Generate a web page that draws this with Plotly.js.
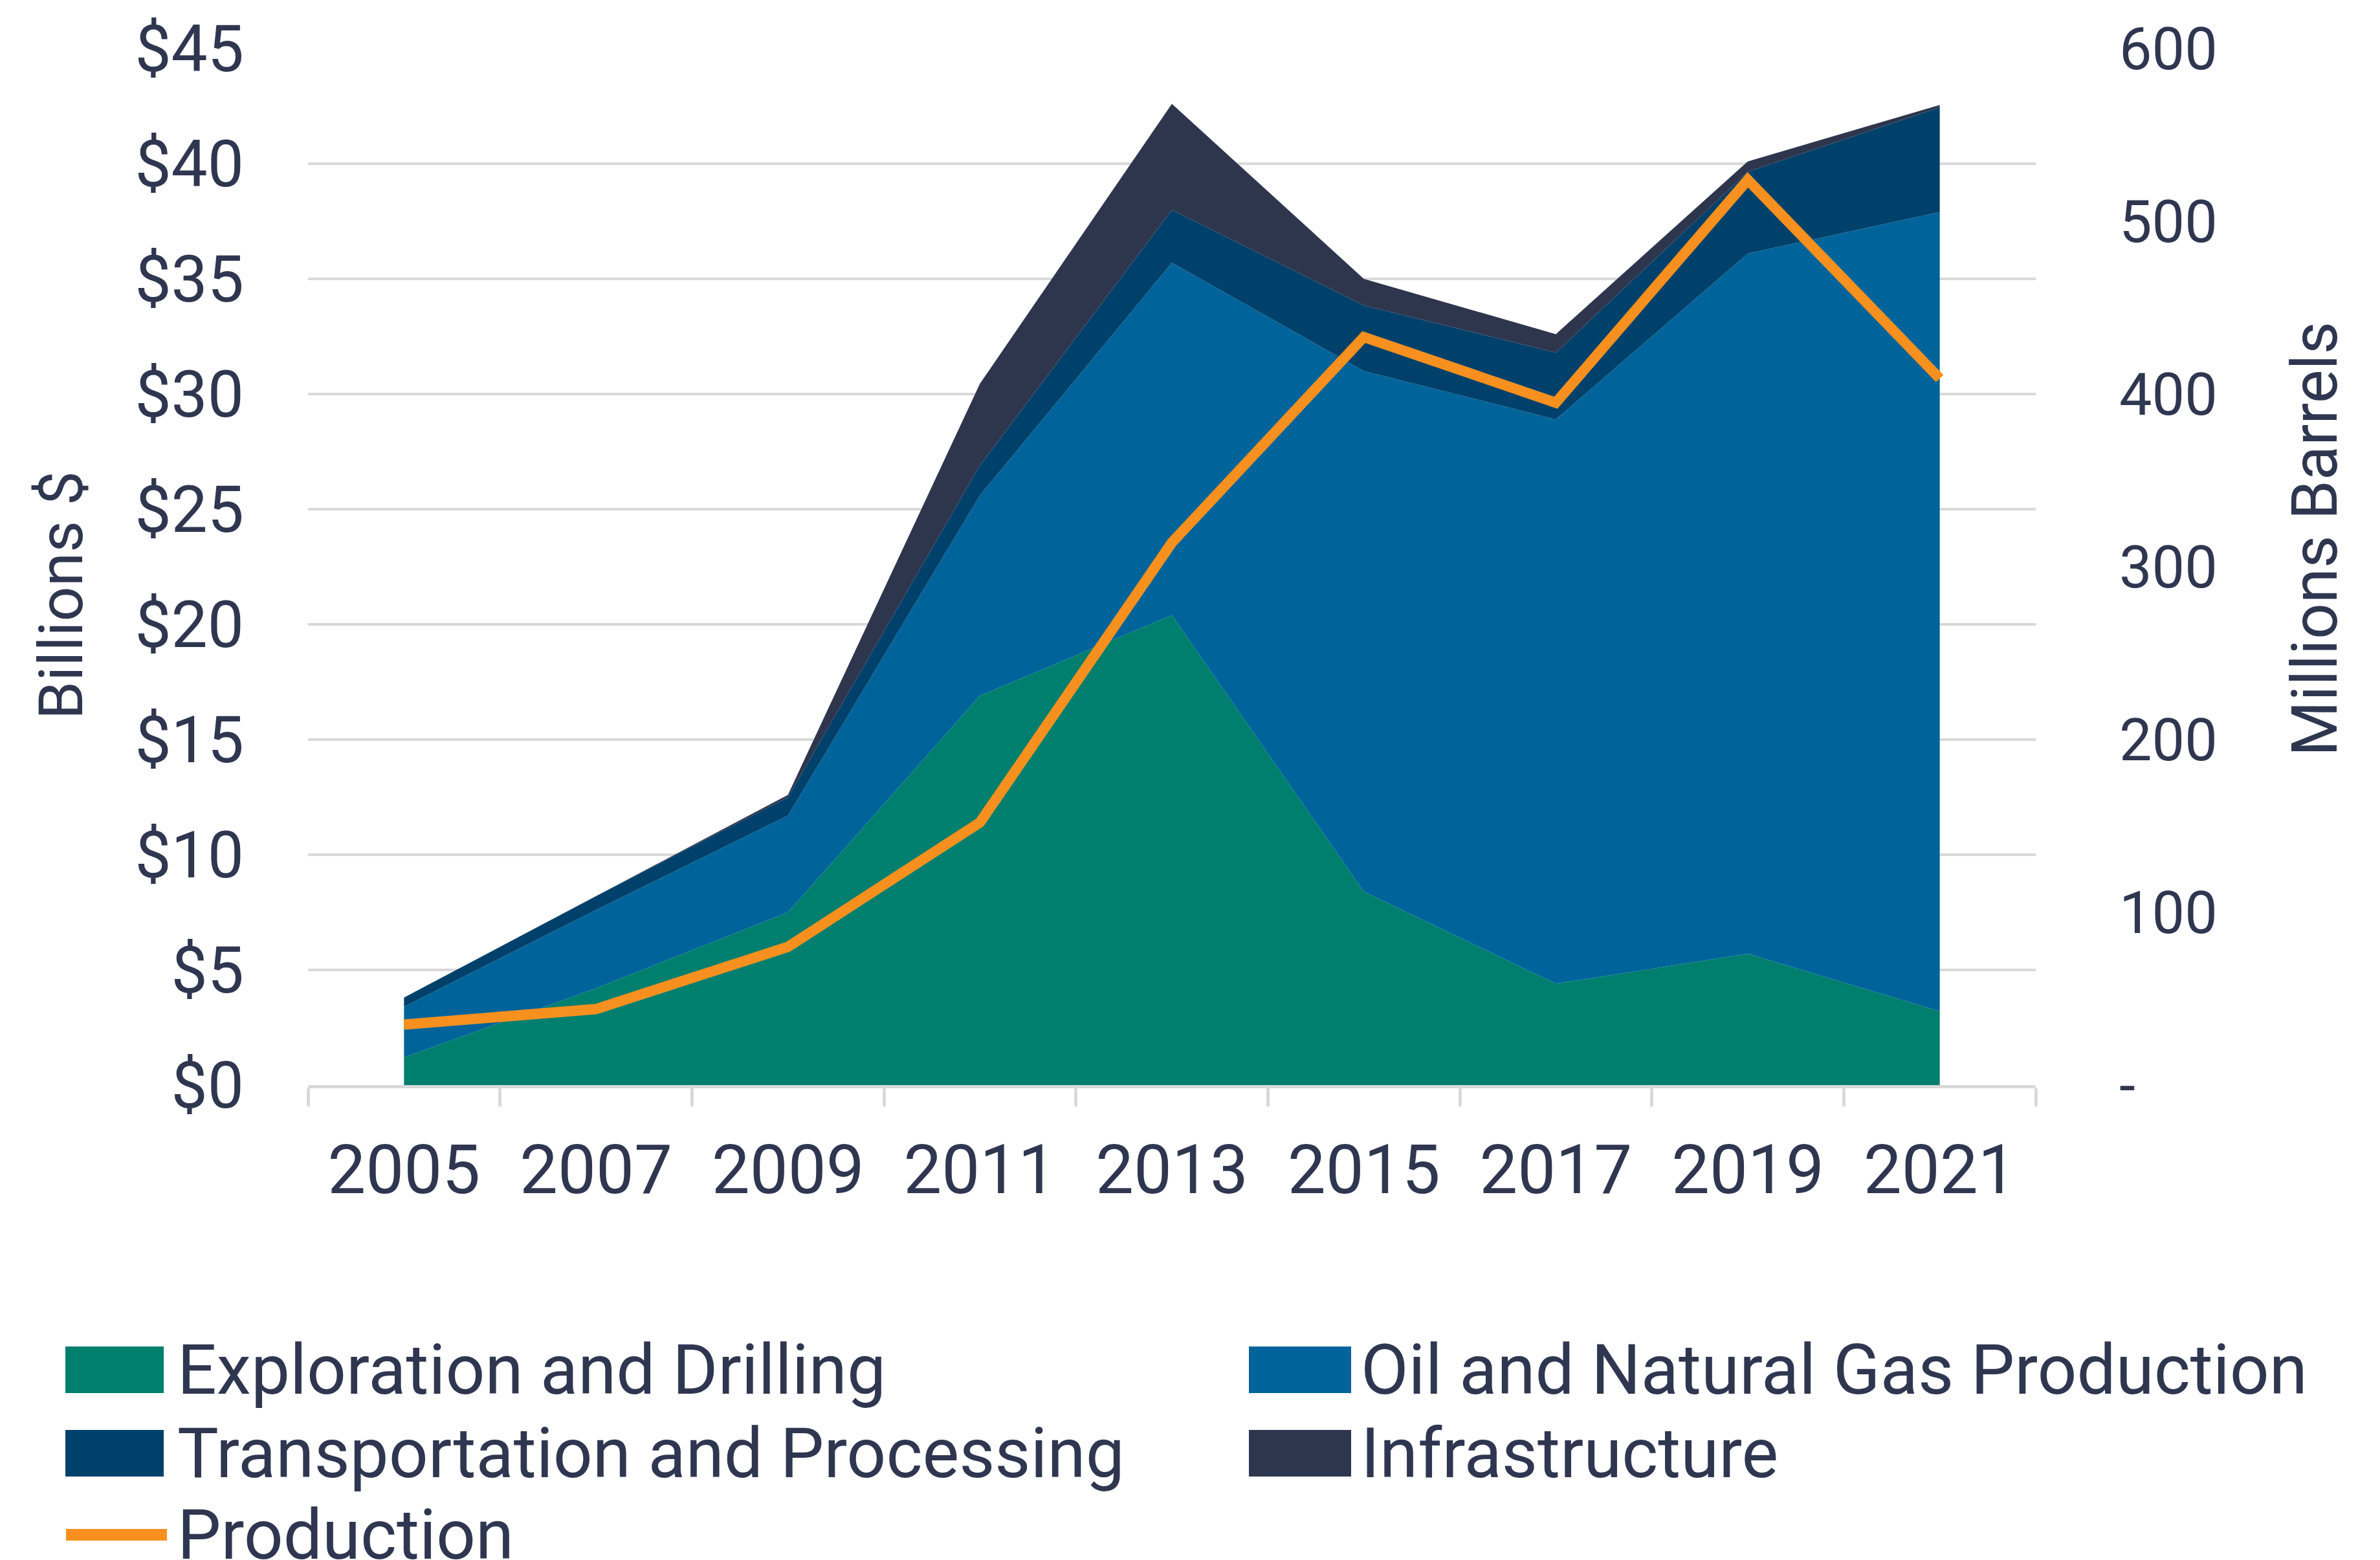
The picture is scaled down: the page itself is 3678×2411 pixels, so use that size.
<!DOCTYPE html>
<html>
<head>
<meta charset="utf-8">
<script src="https://cdn.plot.ly/plotly-3.0.1.min.js"></script>
<style>
html,body{margin:0;padding:0;background:#fff;}
#chart{width:3678px;height:2411px;}
</style>
</head>
<body>
<div id="chart"></div>
<script>
// ---- Data ----
const years = ['2005','2007','2009','2011','2013','2015','2017','2019','2021'];
const explorationDrilling = [1.2, 4.2, 7.5, 16.9, 20.4, 8.4, 4.4, 5.7, 3.2];          // Billions $
const oilGasProduction    = [2.2, 3.4, 4.2, 8.7, 15.3, 22.6, 24.5, 30.4, 34.7];       // Billions $
const transportProcessing = [0.4, 0.6, 0.8, 1.3, 2.3, 2.85, 2.9, 3.55, 4.55];        // Billions $
const infrastructure      = [0.0, 0.0, 0.1, 3.55, 4.6, 1.15, 0.8, 0.45, 0.1];         // Billions $
const productionBarrels   = [35, 44, 80, 152, 314, 433, 395, 524, 409];               // Millions Barrels

const leftTickVals  = [0,5,10,15,20,25,30,35,40,45];
const leftTickText  = ['$0','$5','$10','$15','$20','$25','$30','$35','$40','$45'];
const rightTickVals = [0,100,200,300,400,500,600];
const rightTickText = ['-','100','200','300','400','500','600'];

const seriesNames = ['Exploration and Drilling','Oil and Natural Gas Production',
                     'Transportation and Processing','Infrastructure','Production'];

// ---- Styling ----
const W = 3678, H = 2411;
const plotL = 476, plotR = 3146, plotT = 75, plotB = 1677;
const TEXT = '#2F3650';
const GRID = '#D9D9D9';
const FONT = 'Roboto, "Noto Sans", sans-serif';
const colors = ['#007F6E', '#00649A', '#00416B', '#2E364E', '#F7901E'];

const px2x = X => (X - plotL) / (plotR - plotL);
const px2y = Y => (plotB - Y) / (plotB - plotT);

const areaSeries = [explorationDrilling, oilGasProduction, transportProcessing, infrastructure];
const traces = areaSeries.map((vals, i) => ({
  type: 'scatter', mode: 'lines', x: years, y: vals, name: seriesNames[i],
  stackgroup: 'spend', line: {width: 0, color: colors[i]}, fillcolor: colors[i],
  showlegend: false, hoverinfo: 'skip'
}));
traces.push({
  type: 'scatter', mode: 'lines', x: years, y: productionBarrels, name: seriesNames[4],
  yaxis: 'y2', line: {width: 16, color: colors[4]}, showlegend: false, hoverinfo: 'skip'
});

// ---- Custom legend (large swatches like the reference) ----
const shapes = [];
const annotations = [];
const legendItems = [
  {name: seriesNames[0], color: colors[0], sx0: 101, sx1: 253, tx: 272, yc: 2117, kind: 'box'},
  {name: seriesNames[1], color: colors[1], sx0: 1930, sx1: 2088, tx: 2101, yc: 2117, kind: 'box'},
  {name: seriesNames[2], color: colors[2], sx0: 101, sx1: 253, tx: 272, yc: 2246, kind: 'box'},
  {name: seriesNames[3], color: colors[3], sx0: 1930, sx1: 2088, tx: 2101, yc: 2246, kind: 'box'},
  {name: seriesNames[4], color: colors[4], sx0: 102, sx1: 258, tx: 272, yc: 2372, kind: 'line'}
];
legendItems.forEach(it => {
  if (it.kind === 'box') {
    shapes.push({type: 'rect', xref: 'paper', yref: 'paper',
      x0: px2x(it.sx0), x1: px2x(it.sx1), y0: px2y(it.yc - 36), y1: px2y(it.yc + 36),
      fillcolor: it.color, line: {width: 0}});
  } else {
    shapes.push({type: 'line', xref: 'paper', yref: 'paper',
      x0: px2x(it.sx0), x1: px2x(it.sx1), y0: px2y(it.yc), y1: px2y(it.yc),
      line: {color: it.color, width: 18}});
  }
  annotations.push({xref: 'paper', yref: 'paper', x: px2x(it.tx), y: px2y(it.yc),
    xanchor: 'left', yanchor: 'middle', showarrow: false, text: it.name,
    font: {family: FONT, size: 107, color: TEXT}});
});

// axis titles
annotations.push({xref: 'paper', yref: 'paper', x: px2x(94), y: px2y(920), textangle: -90,
  xanchor: 'center', yanchor: 'middle', showarrow: false, text: 'Billions $',
  font: {family: FONT, size: 95, color: TEXT}});
annotations.push({xref: 'paper', yref: 'paper', x: px2x(3577), y: px2y(833), textangle: -90,
  xanchor: 'center', yanchor: 'middle', showarrow: false, text: 'Millions Barrels',
  font: {family: FONT, size: 98, color: TEXT}});

const layout = {
  width: W, height: H,
  margin: {l: plotL, r: W - plotR, t: plotT, b: H - plotB, pad: 0},
  paper_bgcolor: '#FFFFFF', plot_bgcolor: '#FFFFFF',
  font: {family: FONT, color: TEXT},
  showlegend: false,
  xaxis: {
    type: 'category', range: [-0.5, 8.5], tickson: 'boundaries',
    ticks: 'outside', ticklen: 28, tickwidth: 5, tickcolor: GRID,
    showline: true, linecolor: GRID, linewidth: 5, showgrid: false, zeroline: false,
    tickfont: {family: FONT, size: 105, color: TEXT}, ticklabelstandoff: 36,
    fixedrange: true
  },
  yaxis: {
    range: [0, 45], tickmode: 'array', tickvals: leftTickVals, ticktext: leftTickText,
    showgrid: true, gridcolor: GRID, gridwidth: 4, zeroline: false, showline: false,
    ticks: '', tickfont: {family: FONT, size: 100, color: TEXT}, ticklabelstandoff: 98,
    fixedrange: true
  },
  yaxis2: {
    overlaying: 'y', side: 'right', range: [0, 600], tickmode: 'array',
    tickvals: rightTickVals, ticktext: rightTickText,
    showgrid: false, zeroline: false, showline: false, ticks: '',
    tickfont: {family: FONT, size: 90, color: TEXT}, ticklabelstandoff: 128,
    fixedrange: true
  },
  shapes: shapes,
  annotations: annotations
};

Plotly.newPlot('chart', traces, layout, {displayModeBar: false, staticPlot: true});
</script>
</body>
</html>
